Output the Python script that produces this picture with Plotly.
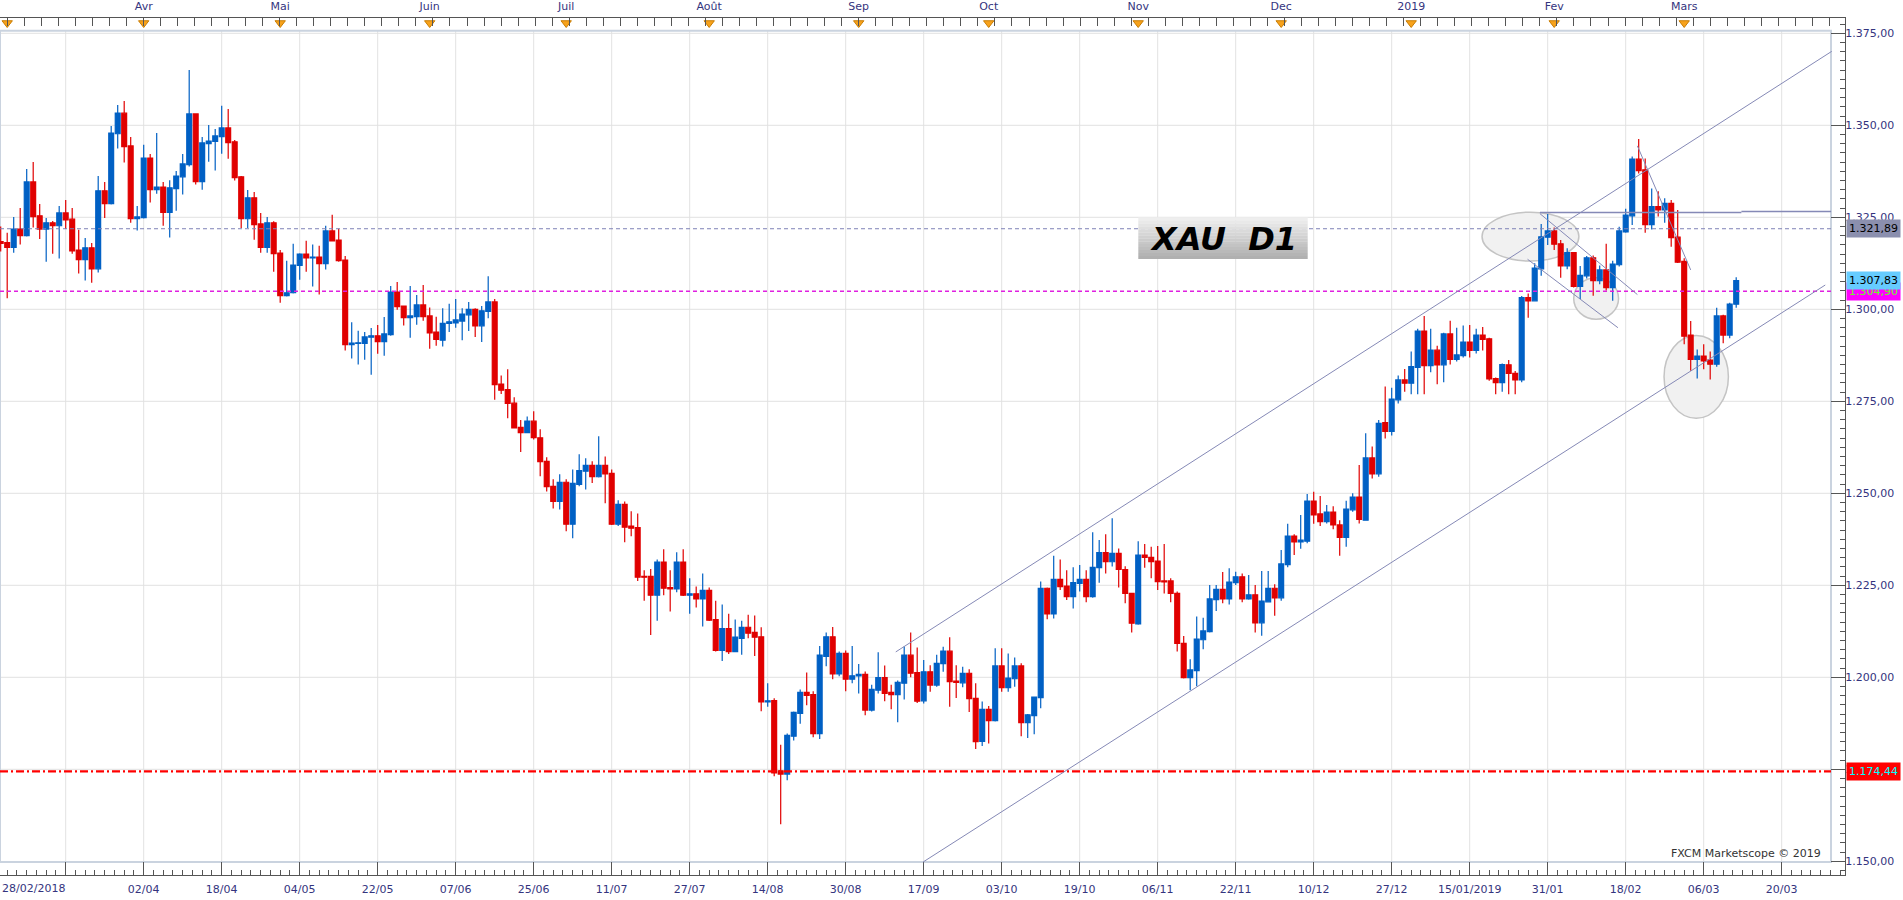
import pandas as pd
import plotly.graph_objects as go

# ---------------- data ----------------
START, END = "2018-02-28", "2019-03-13"
HOLIDAYS = ["2018-03-30", "2018-12-25", "2019-01-01"]
DATES = [d for d in pd.bdate_range(START, END) if d.strftime("%Y-%m-%d") not in HOLIDAYS]

OPEN = [
    1318.4, 1318.1, 1316.8, 1321.8, 1320.0, 1334.6, 1325.4, 1321.8, 1323.5, 1322.7,
    1326.2, 1324.5, 1316.1, 1313.5, 1316.7, 1311.0, 1332.2, 1328.7, 1347.7, 1353.3,
    1344.4, 1324.6, 1324.9, 1341.1, 1332.5, 1333.2, 1326.3, 1332.8, 1336.0, 1339.3,
    1353.1, 1334.7, 1345.0, 1345.6, 1346.9, 1349.3, 1345.5, 1336.0, 1324.6, 1330.3,
    1323.2, 1316.8, 1323.5, 1315.3, 1303.7, 1304.5, 1311.9, 1315.0, 1314.0, 1314.2,
    1312.4, 1321.3, 1318.8, 1313.4, 1290.4, 1290.7, 1290.7, 1292.4, 1292.8, 1291.2,
    1293.1, 1304.7, 1300.9, 1297.7, 1298.0, 1301.2, 1298.2, 1293.8, 1291.6, 1296.2,
    1296.3, 1296.8, 1298.5, 1300.0, 1295.5, 1299.4, 1302.0, 1279.7, 1278.2, 1274.5,
    1267.9, 1266.5, 1269.6, 1265.1, 1258.7, 1251.9, 1247.8, 1253.0, 1241.6, 1252.4,
    1256.0, 1257.6, 1254.5, 1257.6, 1255.4, 1241.6, 1247.0, 1241.1, 1240.7, 1227.4,
    1227.4, 1222.3, 1231.3, 1224.4, 1224.0, 1231.3, 1222.3, 1222.7, 1221.3, 1223.6,
    1215.7, 1207.3, 1213.2, 1207.0, 1210.6, 1213.6, 1212.2, 1211.0, 1193.3, 1193.7,
    1174.6, 1173.7, 1184.0, 1190.2, 1195.9, 1195.3, 1184.7, 1205.7, 1211.0, 1200.9,
    1206.5, 1199.5, 1200.4, 1200.8, 1191.1, 1196.5, 1199.9, 1195.9, 1195.3, 1198.4,
    1206.0, 1201.3, 1193.6, 1201.5, 1197.9, 1203.7, 1207.1, 1199.0, 1198.5, 1201.1,
    1194.3, 1182.6, 1191.3, 1188.2, 1203.1, 1197.2, 1199.6, 1203.1, 1187.7, 1189.6,
    1194.5, 1224.2, 1217.2, 1226.6, 1224.8, 1221.9, 1225.5, 1226.6, 1221.9, 1229.8,
    1233.9, 1231.4, 1233.7, 1229.3, 1222.8, 1214.5, 1233.2, 1232.6, 1231.6, 1226.2,
    1226.2, 1222.8, 1209.2, 1199.9, 1201.8, 1210.2, 1212.4, 1221.1, 1223.9, 1221.3,
    1225.7, 1227.3, 1221.3, 1222.4, 1214.8, 1220.5, 1224.2, 1221.6, 1230.6, 1238.4,
    1236.8, 1237.0, 1247.9, 1244.4, 1242.3, 1244.9, 1241.4, 1238.0, 1245.5, 1249.0,
    1242.7, 1259.6, 1255.3, 1269.2, 1266.8, 1275.4, 1280.8, 1279.9, 1284.2, 1294.1,
    1284.7, 1288.9, 1284.9, 1293.3, 1286.4, 1287.4, 1291.1, 1288.8, 1293.0, 1292.0,
    1281.2, 1280.1, 1284.9, 1282.6, 1280.8, 1303.2, 1302.3, 1311.0, 1319.6, 1321.3,
    1317.8, 1311.8, 1315.4, 1306.2, 1309.1, 1314.0, 1307.8, 1310.7, 1305.9, 1312.1,
    1321.0, 1325.4, 1340.8, 1337.9, 1323.0, 1327.9, 1327.0, 1328.8, 1319.6, 1313.0,
    1293.0, 1286.4, 1287.3, 1286.2, 1285.1, 1298.2, 1293.0, 1301.4,
]
HIGH = [
    1322.5, 1320.8, 1325.1, 1327.5, 1338.1, 1340.0, 1328.6, 1324.8, 1324.0, 1328.1,
    1329.7, 1327.5, 1321.6, 1319.4, 1318.0, 1336.2, 1334.6, 1349.8, 1355.5, 1356.6,
    1346.8, 1328.1, 1344.7, 1342.2, 1347.9, 1334.6, 1335.1, 1337.6, 1342.2, 1365.0,
    1353.3, 1346.8, 1350.1, 1349.0, 1355.3, 1354.4, 1346.0, 1336.2, 1332.4, 1331.9,
    1326.2, 1325.1, 1323.9, 1316.1, 1313.2, 1317.8, 1315.2, 1318.6, 1317.6, 1317.3,
    1322.7, 1325.7, 1321.9, 1314.5, 1296.5, 1294.2, 1293.8, 1294.9, 1295.7, 1297.9,
    1306.3, 1307.4, 1301.0, 1306.3, 1303.9, 1306.6, 1300.5, 1298.0, 1300.3, 1301.5,
    1302.8, 1300.3, 1302.0, 1300.3, 1300.9, 1309.0, 1302.8, 1282.0, 1283.7, 1276.1,
    1269.9, 1270.9, 1272.3, 1267.4, 1259.8, 1253.8, 1255.2, 1253.8, 1256.5, 1260.6,
    1259.5, 1258.7, 1265.5, 1260.0, 1256.5, 1248.1, 1247.8, 1245.1, 1244.5, 1229.1,
    1229.4, 1232.0, 1234.8, 1229.1, 1234.0, 1234.8, 1226.9, 1224.7, 1228.2, 1224.4,
    1220.8, 1219.8, 1217.3, 1215.7, 1215.4, 1217.0, 1216.8, 1213.6, 1198.4, 1194.3,
    1181.7, 1184.7, 1190.7, 1196.7, 1201.3, 1196.2, 1208.5, 1212.2, 1213.7, 1207.0,
    1207.3, 1208.5, 1203.6, 1201.6, 1198.0, 1206.8, 1203.2, 1198.0, 1199.1, 1208.4,
    1212.2, 1208.1, 1204.7, 1203.3, 1206.1, 1208.3, 1210.9, 1203.3, 1202.9, 1202.2,
    1198.4, 1193.4, 1192.2, 1207.9, 1207.9, 1206.5, 1205.4, 1203.8, 1190.0, 1194.8,
    1226.0, 1224.4, 1233.0, 1232.0, 1229.1, 1229.9, 1230.5, 1229.1, 1239.4, 1237.3,
    1238.9, 1243.2, 1235.0, 1230.2, 1223.0, 1237.0, 1236.2, 1235.5, 1235.7, 1236.2,
    1226.9, 1223.3, 1211.2, 1204.9, 1216.5, 1216.2, 1225.1, 1225.1, 1228.6, 1229.6,
    1228.7, 1228.2, 1227.8, 1225.1, 1228.9, 1228.9, 1225.3, 1234.6, 1241.7, 1238.9,
    1244.1, 1249.8, 1250.4, 1249.3, 1246.8, 1246.5, 1242.7, 1248.0, 1250.0, 1257.7,
    1266.3, 1262.7, 1269.9, 1279.0, 1278.7, 1282.0, 1283.8, 1288.5, 1294.7, 1298.2,
    1294.7, 1290.1, 1293.6, 1296.9, 1295.0, 1295.6, 1295.7, 1294.7, 1295.2, 1292.3,
    1281.5, 1285.3, 1286.2, 1283.2, 1303.6, 1304.3, 1312.5, 1323.2, 1325.9, 1322.2,
    1318.8, 1316.6, 1315.6, 1311.8, 1314.5, 1314.6, 1311.9, 1317.8, 1313.2, 1322.4,
    1327.3, 1341.5, 1346.3, 1341.0, 1332.8, 1332.1, 1330.2, 1329.7, 1327.0, 1313.9,
    1296.8, 1289.1, 1290.5, 1288.5, 1300.4, 1298.5, 1301.8, 1308.7,
]
LOW = [
    1315.7, 1303.0, 1315.4, 1317.6, 1319.8, 1322.2, 1319.1, 1312.9, 1315.1, 1313.8,
    1321.8, 1315.1, 1309.7, 1307.8, 1307.2, 1310.0, 1324.8, 1328.5, 1343.7, 1339.9,
    1323.5, 1321.4, 1324.7, 1329.0, 1331.4, 1322.7, 1319.5, 1326.8, 1331.2, 1338.8,
    1333.9, 1332.5, 1340.1, 1337.7, 1342.3, 1340.9, 1335.0, 1322.1, 1322.1, 1318.9,
    1315.4, 1315.4, 1310.2, 1301.8, 1303.5, 1304.3, 1308.0, 1310.2, 1306.2, 1304.0,
    1310.8, 1318.4, 1312.9, 1288.8, 1286.6, 1285.0, 1286.3, 1282.2, 1287.9, 1287.4,
    1292.8, 1299.9, 1295.6, 1292.3, 1295.8, 1296.9, 1289.3, 1290.1, 1289.9, 1293.8,
    1295.0, 1291.6, 1294.1, 1292.5, 1291.1, 1297.6, 1275.4, 1277.0, 1270.4, 1267.6,
    1261.2, 1266.3, 1264.6, 1254.6, 1250.5, 1245.9, 1245.6, 1239.7, 1237.8, 1251.9,
    1251.0, 1252.8, 1254.3, 1247.3, 1241.4, 1241.1, 1236.7, 1238.3, 1226.2, 1220.8,
    1211.5, 1215.4, 1222.3, 1217.9, 1223.1, 1222.1, 1217.3, 1219.0, 1213.8, 1215.3,
    1207.0, 1204.4, 1206.3, 1206.8, 1206.1, 1210.6, 1205.8, 1190.8, 1192.0, 1173.1,
    1160.1, 1172.0, 1182.8, 1187.4, 1192.4, 1183.7, 1183.2, 1203.0, 1199.5, 1200.3,
    1196.2, 1198.4, 1195.6, 1189.7, 1190.7, 1195.6, 1193.5, 1191.3, 1187.8, 1194.0,
    1200.0, 1193.0, 1192.9, 1196.1, 1197.4, 1201.5, 1192.0, 1194.4, 1197.3, 1190.6,
    1180.5, 1181.3, 1182.0, 1188.0, 1196.1, 1196.1, 1197.4, 1184.0, 1183.5, 1184.5,
    1191.6, 1215.8, 1216.0, 1223.7, 1221.0, 1218.7, 1223.3, 1220.4, 1221.6, 1225.7,
    1228.2, 1230.1, 1224.4, 1220.1, 1212.2, 1214.3, 1229.8, 1226.9, 1223.7, 1222.8,
    1220.4, 1207.0, 1199.7, 1196.5, 1197.6, 1207.6, 1212.2, 1218.0, 1220.1, 1219.8,
    1225.1, 1220.4, 1221.1, 1212.2, 1211.3, 1220.3, 1216.7, 1220.8, 1229.9, 1233.2,
    1234.9, 1236.4, 1241.7, 1241.1, 1241.8, 1240.2, 1233.0, 1235.5, 1245.0, 1241.8,
    1242.6, 1254.0, 1254.5, 1264.9, 1265.7, 1274.4, 1277.6, 1276.9, 1276.9, 1276.9,
    1282.9, 1279.6, 1280.2, 1285.0, 1285.8, 1286.9, 1286.9, 1288.0, 1288.8, 1280.6,
    1276.9, 1277.6, 1276.9, 1276.9, 1280.2, 1297.7, 1302.1, 1309.1, 1317.5, 1316.1,
    1308.6, 1310.9, 1305.9, 1302.8, 1308.4, 1303.7, 1306.8, 1305.1, 1302.3, 1311.6,
    1320.8, 1322.9, 1336.9, 1320.8, 1321.7, 1325.2, 1323.5, 1317.0, 1312.6, 1290.5,
    1283.3, 1281.2, 1283.7, 1280.9, 1284.4, 1290.8, 1292.1, 1300.4,
]
CLOSE = [
    1317.9, 1316.8, 1321.8, 1320.0, 1334.6, 1325.2, 1321.8, 1323.5, 1322.7, 1326.2,
    1324.3, 1315.9, 1313.5, 1316.7, 1311.0, 1332.2, 1328.7, 1347.9, 1353.3, 1344.2,
    1324.6, 1325.1, 1341.1, 1332.5, 1333.2, 1326.3, 1333.0, 1336.2, 1339.5, 1353.1,
    1334.7, 1345.2, 1345.7, 1347.1, 1349.3, 1345.3, 1335.8, 1324.6, 1330.3, 1323.0,
    1316.8, 1323.5, 1315.1, 1303.7, 1304.5, 1312.0, 1315.0, 1314.0, 1314.2, 1312.4,
    1321.3, 1318.6, 1313.2, 1290.4, 1290.8, 1290.9, 1292.5, 1292.8, 1291.2, 1293.3,
    1304.7, 1300.7, 1297.7, 1298.2, 1301.2, 1298.0, 1293.6, 1291.8, 1296.2, 1296.6,
    1297.1, 1298.7, 1300.0, 1295.5, 1299.6, 1302.0, 1279.5, 1278.0, 1274.4, 1267.8,
    1266.5, 1269.6, 1265.1, 1258.6, 1251.8, 1247.8, 1253.0, 1241.6, 1252.7, 1256.2,
    1257.6, 1254.5, 1257.6, 1255.3, 1241.6, 1247.0, 1240.8, 1240.5, 1227.2, 1227.2,
    1222.3, 1231.3, 1224.2, 1224.0, 1231.3, 1222.3, 1222.7, 1221.3, 1223.6, 1215.5,
    1207.3, 1213.2, 1207.0, 1210.9, 1213.6, 1212.0, 1210.9, 1193.3, 1193.6, 1174.0,
    1173.7, 1184.2, 1190.5, 1195.9, 1195.1, 1184.7, 1206.0, 1211.0, 1200.9, 1206.5,
    1199.5, 1200.4, 1200.8, 1191.1, 1196.7, 1199.9, 1195.6, 1195.3, 1198.6, 1206.0,
    1201.1, 1193.5, 1201.5, 1197.9, 1203.8, 1207.1, 1198.8, 1198.6, 1201.1, 1194.2,
    1182.5, 1191.3, 1188.2, 1203.1, 1197.2, 1199.8, 1203.1, 1187.7, 1189.8, 1194.6,
    1224.2, 1217.2, 1226.6, 1224.6, 1221.9, 1225.7, 1226.6, 1221.9, 1229.9, 1233.9,
    1231.4, 1233.7, 1229.3, 1222.8, 1214.7, 1233.2, 1232.6, 1231.4, 1226.0, 1225.9,
    1222.8, 1209.2, 1199.9, 1202.0, 1210.4, 1212.6, 1221.3, 1223.9, 1221.3, 1225.9,
    1227.3, 1221.3, 1222.4, 1214.8, 1220.7, 1224.2, 1221.6, 1230.8, 1238.4, 1236.8,
    1237.3, 1247.9, 1244.1, 1242.3, 1244.9, 1241.4, 1238.0, 1245.7, 1249.0, 1242.9,
    1259.6, 1255.3, 1269.0, 1266.8, 1275.6, 1280.8, 1279.9, 1284.4, 1294.1, 1284.7,
    1288.9, 1284.9, 1293.3, 1286.4, 1287.6, 1291.1, 1288.8, 1293.0, 1291.8, 1281.1,
    1280.1, 1285.0, 1282.6, 1280.8, 1303.2, 1302.3, 1311.2, 1319.7, 1321.3, 1317.7,
    1311.8, 1315.4, 1306.2, 1309.2, 1314.0, 1307.8, 1310.7, 1305.9, 1312.3, 1321.3,
    1325.6, 1340.8, 1337.7, 1323.0, 1327.9, 1327.0, 1328.8, 1319.5, 1312.8, 1292.7,
    1286.4, 1287.3, 1286.0, 1285.1, 1298.2, 1293.0, 1301.4, 1307.83,
]

BOTTOM_FIRST_LABEL = "28/02/2018"
BOTTOM_LABELS = ["02/04", "18/04", "04/05", "22/05", "07/06", "25/06", "11/07", "27/07",
                 "14/08", "30/08", "17/09", "03/10", "19/10", "06/11", "22/11", "10/12",
                 "27/12", "15/01/2019", "31/01", "18/02", "06/03", "20/03"]
TOP_LABELS = ["", "Avr", "Mai", "Juin", "Juil", "Août", "Sep", "Oct", "Nov", "Dec",
              "2019", "Fev", "Mars"]
PRICE_TICKS = [1150, 1175, 1200, 1225, 1250, 1275, 1300, 1325, 1350, 1375]

LEVEL_BLUE = 1321.89
LEVEL_MAGENTA = 1304.90
LEVEL_RED = 1174.44

# drawings: (bar number, price)
CHANNEL_UPPER = [(137.7, 1206.9), (281.7, 1370.1)]
CHANNEL_LOWER = [(141.9, 1149.8), (280.7, 1306.6)]
FLAG_UPPER = [(236.8, 1326.0), (251.8, 1304.0)]
FLAG_LOWER = [(234.9, 1313.6), (248.8, 1295.0)]
PEAK_LINE = [(251.8, 1344.4), (260.0, 1310.7)]
RESIST_1 = [(236.8, 1326.3), (267.8, 1326.3)]
RESIST_2 = [(267.8, 1326.6), (281.6, 1326.6)]
ELLIPSES = [((227.9, 1313.1), (242.8, 1326.4)),
            ((242.0, 1297.3), (248.9, 1308.6)),
            ((255.9, 1270.4), (265.8, 1292.9))]

# ---------------- layout geometry ----------------
W, H = 1903, 900
MT, MB, ML, MR = 18, 25, 0, 58
PW, PH = W - ML - MR, H - MT - MB
BAR_PX, FIRST_PX = 6.5, 0.7
USD_PX, Y1375_PX = 3.68, 33.3
FRAME_R, FRAME_T, FRAME_B = 1831, 30.7, 862


def fx(px):
    return (px - ML) / PW


def fy(py):
    return 1 - (py - MT) / PH


def fr(v):
    return f"{v:,.2f}".replace(",", " ").replace(".", ",").replace(" ", ".")


X_RANGE = [(0 - FIRST_PX) / BAR_PX, (PW - FIRST_PX) / BAR_PX]
Y_RANGE = [1375 - (H - MB - Y1375_PX) / USD_PX, 1375 + (Y1375_PX - MT) / USD_PX]

BAR = list(range(len(DATES)))
MONTH_STARTS = [i for i in range(1, len(DATES)) if DATES[i].month != DATES[i - 1].month]
GRID_BARS = [10 + 12 * k for k in range(len(BOTTOM_LABELS) + 1)]

LABEL_COLOR = "#34347e"
FONT = "DejaVu Sans"

fig = go.Figure()

fig.add_trace(go.Candlestick(
    x=BAR, open=OPEN, high=HIGH, low=LOW, close=CLOSE,
    text=[d.strftime("%d/%m/%Y") for d in DATES],
    increasing=dict(line=dict(color="#0060c4", width=1.2), fillcolor="#0060c4"),
    decreasing=dict(line=dict(color="#e00000", width=1.2), fillcolor="#e00000"),
    whiskerwidth=0, showlegend=False, hoverinfo="skip",
))

# month markers on the top axis
fig.add_trace(go.Scatter(
    x=MONTH_STARTS, y=[1375 + (Y1375_PX - 23) / USD_PX] * len(MONTH_STARTS),
    xaxis="x2", yaxis="y", mode="markers", cliponaxis=False, hoverinfo="skip",
    marker=dict(symbol="triangle-down", size=9, color="#f7a21b",
                line=dict(color="#c97c00", width=1)),
    showlegend=False,
))

shapes = []
for (x0, y0), (x1, y1) in ELLIPSES:
    shapes.append(dict(type="circle", xref="x", yref="y", x0=x0, x1=x1, y0=y0, y1=y1,
                       fillcolor="#f1f1f1", line=dict(color="#c4c4c4", width=1.5),
                       layer="below"))
for b in GRID_BARS:
    shapes.append(dict(type="line", xref="x", yref="paper", x0=b, x1=b,
                       y0=fy(FRAME_B), y1=fy(FRAME_T),
                       line=dict(color="#e2e2e2", width=1), layer="below"))
for p in PRICE_TICKS[1:]:
    shapes.append(dict(type="line", xref="paper", yref="y", x0=0, x1=fx(FRAME_R),
                       y0=p, y1=p, line=dict(color="#e2e2e2", width=1), layer="below"))
shapes.append(dict(type="rect", xref="paper", yref="paper", x0=fx(0), x1=fx(FRAME_R),
                   y0=fy(FRAME_B), y1=fy(FRAME_T),
                   line=dict(color="#cad3df", width=2), layer="below"))
shapes.append(dict(type="line", xref="paper", yref="y", x0=0, x1=fx(FRAME_R),
                   y0=LEVEL_BLUE, y1=LEVEL_BLUE,
                   line=dict(color="#7e82b6", width=1, dash="4px,3px")))
shapes.append(dict(type="line", xref="paper", yref="y", x0=0, x1=fx(FRAME_R),
                   y0=LEVEL_MAGENTA, y1=LEVEL_MAGENTA,
                   line=dict(color="#e020e0", width=1.3, dash="4px,3px")))
shapes.append(dict(type="line", xref="paper", yref="y", x0=0, x1=fx(FRAME_R),
                   y0=LEVEL_RED, y1=LEVEL_RED,
                   line=dict(color="#ff0000", width=2.2, dash="8px,3px,2px,3px")))
for seg, w in [(CHANNEL_UPPER, 1), (CHANNEL_LOWER, 1), (FLAG_UPPER, 1), (FLAG_LOWER, 1),
               (PEAK_LINE, 1), (RESIST_1, 1.5), (RESIST_2, 1.5)]:
    (x0, y0), (x1, y1) = seg
    shapes.append(dict(type="line", xref="x", yref="y", x0=x0, x1=x1, y0=y0, y1=y1,
                       line=dict(color="#8589b6", width=w)))
# XAU D1 box with a vertical gradient
BOX_L, BOX_R, BOX_T, BOX_B = 1138.3, 1307.7, 217.3, 259.0
N = 14
for k in range(N):
    t = k / (N - 1)
    c = int(238 - t * (238 - 176))
    ya = BOX_T + (BOX_B - BOX_T) * k / N
    yb = BOX_T + (BOX_B - BOX_T) * (k + 1) / N
    shapes.append(dict(type="rect", xref="paper", yref="paper",
                       x0=fx(BOX_L), x1=fx(BOX_R), y0=fy(yb), y1=fy(ya),
                       fillcolor=f"rgb({c},{c},{c})", line=dict(width=0)))

annotations = []
annotations.append(dict(xref="paper", yref="paper", x=fx((BOX_L + BOX_R) / 2),
                        y=fy(239), text="XAU\u00a0\u00a0D1", showarrow=False,
                        xanchor="center", yanchor="middle",
                        font=dict(family=FONT, size=32, color="#000000",
                                  weight="bold", style="italic")))
for val, bg, fg in [(LEVEL_BLUE, "#8b8fae", "#000000"),
                    (LEVEL_RED, "#ff0000", "#00ffff"),
                    (LEVEL_MAGENTA, "#ff00ff", "#66ff22"),
                    (CLOSE[-1], "#66ccff", "#000000")]:
    annotations.append(dict(xref="paper", yref="y", x=fx(1846), y=val, text=fr(val),
                            showarrow=False, xanchor="left", yanchor="middle",
                            align="left", bgcolor=bg, borderpad=2,
                            font=dict(family=FONT, size=11, color=fg)))
annotations.append(dict(xref="paper", yref="paper", x=fx(0), y=fy(888),
                        text=BOTTOM_FIRST_LABEL, showarrow=False, xanchor="left",
                        yanchor="middle", font=dict(family=FONT, size=11, color=LABEL_COLOR)))
annotations.append(dict(xref="paper", yref="paper", x=fx(1823), y=fy(853),
                        text="FXCM Marketscope © 2019", showarrow=False, xanchor="right",
                        yanchor="middle", font=dict(family=FONT, size=11, color="#333333")))

tickfont = dict(family=FONT, size=11, color=LABEL_COLOR)

fig.update_layout(
    width=W, height=H, autosize=False,
    margin=dict(l=ML, r=MR, t=MT, b=MB, pad=0, autoexpand=False),
    paper_bgcolor="white", plot_bgcolor="white",
    separators=",.",
    boxgap=0.25, boxgroupgap=0,
    showlegend=False, hovermode=False,
    shapes=shapes, annotations=annotations,
    xaxis=dict(
        range=X_RANGE, showgrid=False, zeroline=False, automargin=False,
        showline=True, linecolor="#555555", linewidth=1,
        ticks="inside", ticklen=13, tickcolor="#555555",
        tickmode="array", tickvals=GRID_BARS, ticktext=[""] + BOTTOM_LABELS,
        tickfont=tickfont, ticklabelstandoff=4,
        minor=dict(ticks="inside", ticklen=5, dtick=1.5, tick0=10,
                   tickcolor="#555555", showgrid=False),
        rangeslider=dict(visible=False), fixedrange=True,
    ),
    xaxis2=dict(
        overlaying="x", side="top", anchor="y", range=X_RANGE, automargin=False,
        showgrid=False, zeroline=False,
        showline=True, linecolor="#555555", linewidth=1,
        ticks="", tickmode="array", tickvals=MONTH_STARTS, ticktext=TOP_LABELS,
        tickfont=tickfont, ticklabelstandoff=3,
        minor=dict(ticks="inside", ticklen=8, dtick=2.62, tick0=1,
                   tickcolor="#555555", showgrid=False),
        fixedrange=True,
    ),
    yaxis=dict(
        range=Y_RANGE, side="right", anchor="x", showgrid=False, zeroline=False,
        automargin=False,
        showline=True, linecolor="#555555", linewidth=1,
        ticks="inside", ticklen=14, tickcolor="#555555",
        tickmode="array", tickvals=PRICE_TICKS, tickformat=",.2f",
        tickfont=tickfont, ticklabelstandoff=-3,
        minor=dict(ticks="inside", ticklen=5, dtick=2.5, tick0=1150,
                   tickcolor="#555555", showgrid=False),
        fixedrange=True,
    ),
)

fig.write_html("out.html", config=dict(displayModeBar=False),
               post_script="document.body.style.margin='0';document.body.style.overflow='hidden';")
